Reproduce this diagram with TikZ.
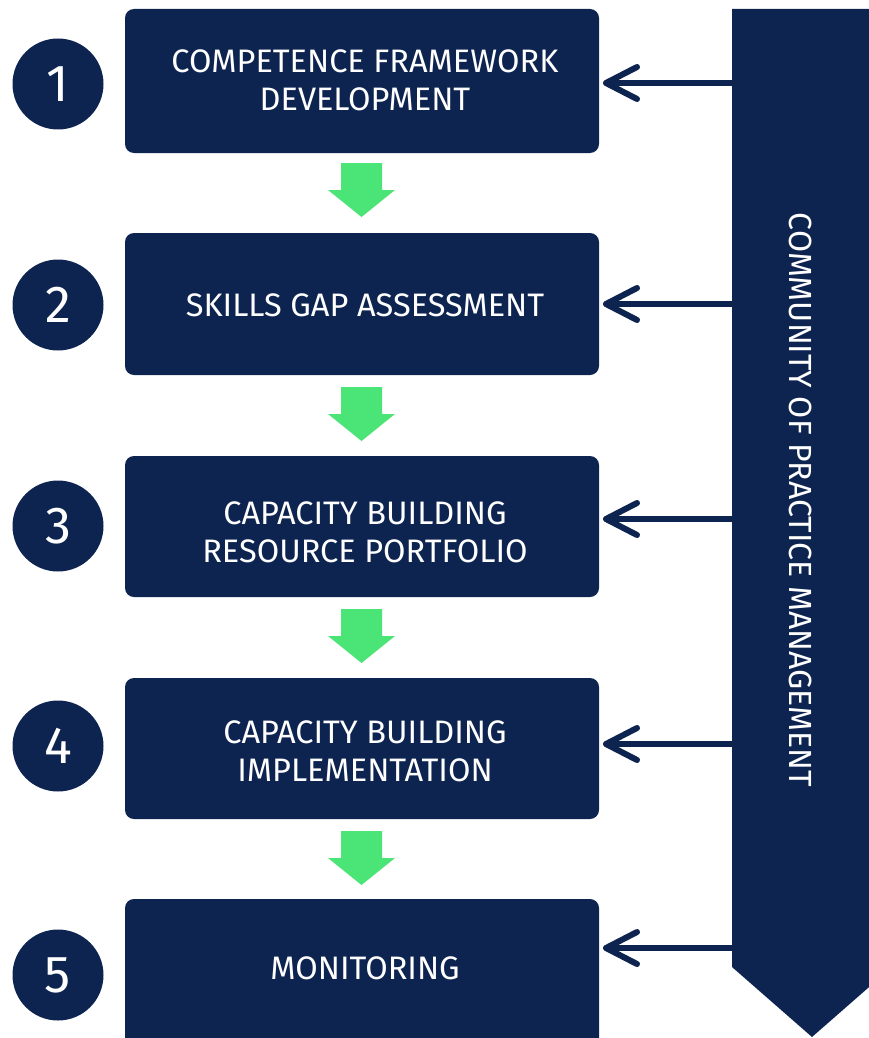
\documentclass[tikz,border=0pt]{standalone}
\usepackage{fontspec}
\setmainfont{Fira Sans}
\definecolor{navy}{HTML}{0E2450}
\definecolor{grn}{HTML}{4BE476}
\tikzset{
  stepbox/.style={fill=navy, rounded corners=9pt, draw=none},
  boxtext/.style={text=white, align=center, font=\fontsize{32.5}{38}\selectfont},
  numcirc/.style={circle, fill=navy, minimum size=91pt, inner sep=0pt, text=white, font=\fontsize{52}{52}\selectfont},
  feedarrow/.style={draw=navy, line width=6pt, line cap=round, line join=round},
  greenarrow/.style={fill=grn, draw=none}
}
\begin{document}
\begin{tikzpicture}[x=1pt, y=-1pt]
\useasboundingbox (0,0) rectangle (869,1038);
\clip (0,0) rectangle (869,1038);
% right bar
\fill[navy] (732,9) -- (900,9) -- (900,967) -- (892,967) -- (812,1037) -- (732,967) -- cycle;
\node[rotate=-90, text=white, font=\fontsize{32}{34}\selectfont] (bar) at (801,500) {COMMUNITY OF PRACTICE MANAGEMENT};
% boxes
\foreach \i/\t/\b in {1/9/153, 2/233/375, 3/456/597, 4/678/819, 5/899/1060}{
  \fill[stepbox] (125,\t) rectangle (599,\b);
}
\node[boxtext] (t1) at (365,80) {COMPETENCE FRAMEWORK\\DEVELOPMENT};
\node[boxtext] (t2) at (365,305) {SKILLS GAP ASSESSMENT};
\node[boxtext] (t3) at (365,532) {CAPACITY BUILDING\\RESOURCE PORTFOLIO};
\node[boxtext] (t4) at (365,751) {CAPACITY BUILDING\\IMPLEMENTATION};
\node[boxtext] (t5) at (365,968) {MONITORING};
% numbers
\node[numcirc] (n1) at (58,84) {1};
\node[numcirc] (n2) at (58,305) {2};
\node[numcirc] (n3) at (58,526) {3};
\node[numcirc] (n4) at (58,746) {4};
\node[numcirc] (n5) at (58,975) {5};
% green arrows
\foreach \y in {163,387,609,831}{
  \fill[greenarrow] (341,\y) -- (382,\y) -- (382,\y+27) -- (395,\y+27) -- (361.5,\y+54) -- (328,\y+27) -- (341,\y+27) -- cycle;
}
% feedback arrows
\foreach \y [count=\k] in {83,304,519,744,948}{
  \coordinate (s\k) at (732,\y);
  \coordinate (e\k) at (606,\y);
  \draw[feedarrow] (s\k) -- (e\k);
  \draw[feedarrow] (637,\y-16) -- (e\k) -- (637,\y+16);
}
\end{tikzpicture}
\end{document}
